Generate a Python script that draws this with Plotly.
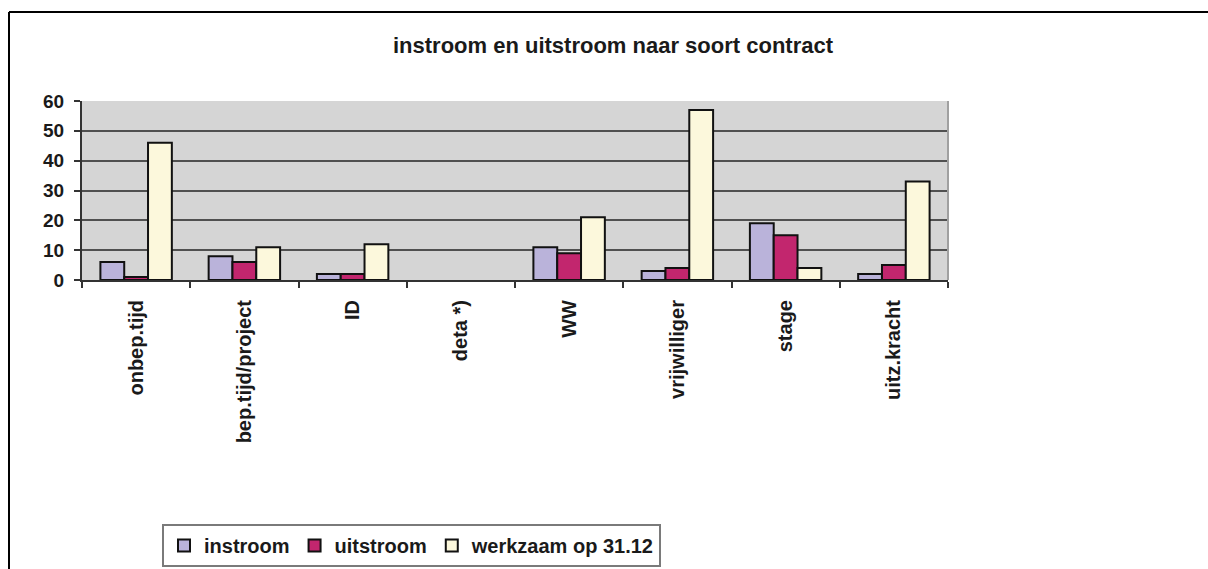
import plotly.graph_objects as go

categories = ["onbep.tijd", "bep.tijd/project", "ID", "deta *)", "WW",
              "vrijwilliger", "stage", "uitz.kracht"]
instroom = [6, 8, 2, None, 11, 3, 19, 2]
uitstroom = [1, 6, 2, None, 9, 4, 15, 5]
werkzaam = [46, 11, 12, None, 21, 57, 4, 33]
series_names = ["instroom", "uitstroom", "werkzaam op 31.12"]
series_colors = ["#bab3da", "#c2266e", "#fcf8dc"]
y_ticks = [0, 10, 20, 30, 40, 50, 60]

FONT = "Liberation Sans, Arial, sans-serif"

fig = go.Figure()
for name, vals, col in zip(series_names, [instroom, uitstroom, werkzaam], series_colors):
    fig.add_trace(go.Bar(
        x=categories, y=vals, name=name,
        marker=dict(color=col, line=dict(color="#111111", width=2)),
    ))

W, H = 1208, 569
L, R, T, B = 82, 948, 101, 280
pw, ph = R - L, B - T

def px(x):
    return (x - L) / pw

def py(y):
    return (B - y) / ph

fig.update_layout(
    width=W, height=H,
    margin=dict(l=L, r=W - R, t=T, b=H - B, pad=0, autoexpand=False),
    paper_bgcolor="white",
    plot_bgcolor="#d5d5d5",
    barmode="group",
    bargap=0.34,
    bargroupgap=0,
    title=dict(
        text="instroom en uitstroom naar soort contract",
        x=613 / W, xanchor="center", xref="container",
        y=1 - 45 / H, yanchor="middle", yref="container",
        font=dict(family=FONT, size=22, color="#1a1a1a", weight="bold"),
    ),
    legend=dict(
        orientation="h",
        xref="container", yref="container",
        x=162 / W, xanchor="left",
        y=(H - 567) / H, yanchor="bottom",
        bgcolor="white",
        bordercolor="#7a7a7a", borderwidth=2,
        font=dict(family=FONT, size=20, color="#1a1a1a", weight="bold"),
        itemsizing="constant",
        tracegroupgap=0,
    ),
    xaxis=dict(
        type="category",
        range=[-0.5, 7.5],
        showgrid=False,
        showline=True, linecolor="#333333", linewidth=2,
        ticks="outside", tickson="boundaries", ticklen=6, tickwidth=2, tickcolor="#333333",
        tickangle=-90,
        ticklabelstandoff=10,
        tickfont=dict(family=FONT, size=20, color="#1a1a1a", weight="bold"),
    ),
    yaxis=dict(
        range=[0, 60],
        tickvals=y_ticks,
        ticktext=[str(v) for v in y_ticks],
        showgrid=True, gridcolor="#505050", gridwidth=2,
        zeroline=False,
        showline=True, linecolor="#333333", linewidth=2,
        ticks="outside", ticklen=6, tickwidth=2, tickcolor="#333333",
        ticklabelstandoff=6,
        tickfont=dict(family=FONT, size=19, color="#1a1a1a", weight="bold"),
    ),
    shapes=[
        dict(type="line", xref="paper", yref="paper", x0=1, x1=1, y0=0, y1=1,
             line=dict(color="#a0a0a0", width=2)),
        dict(type="line", xref="paper", yref="paper",
             x0=px(9), x1=px(W + 5), y0=py(12), y1=py(12),
             line=dict(color="black", width=2)),
        dict(type="line", xref="paper", yref="paper",
             x0=px(9), x1=px(9), y0=py(12), y1=py(H + 5),
             line=dict(color="black", width=2)),
    ],
)

fig.write_html(
    "out.html",
    config={"displayModeBar": False},
    post_script="document.body.style.margin='0';document.body.style.padding='0';",
)
